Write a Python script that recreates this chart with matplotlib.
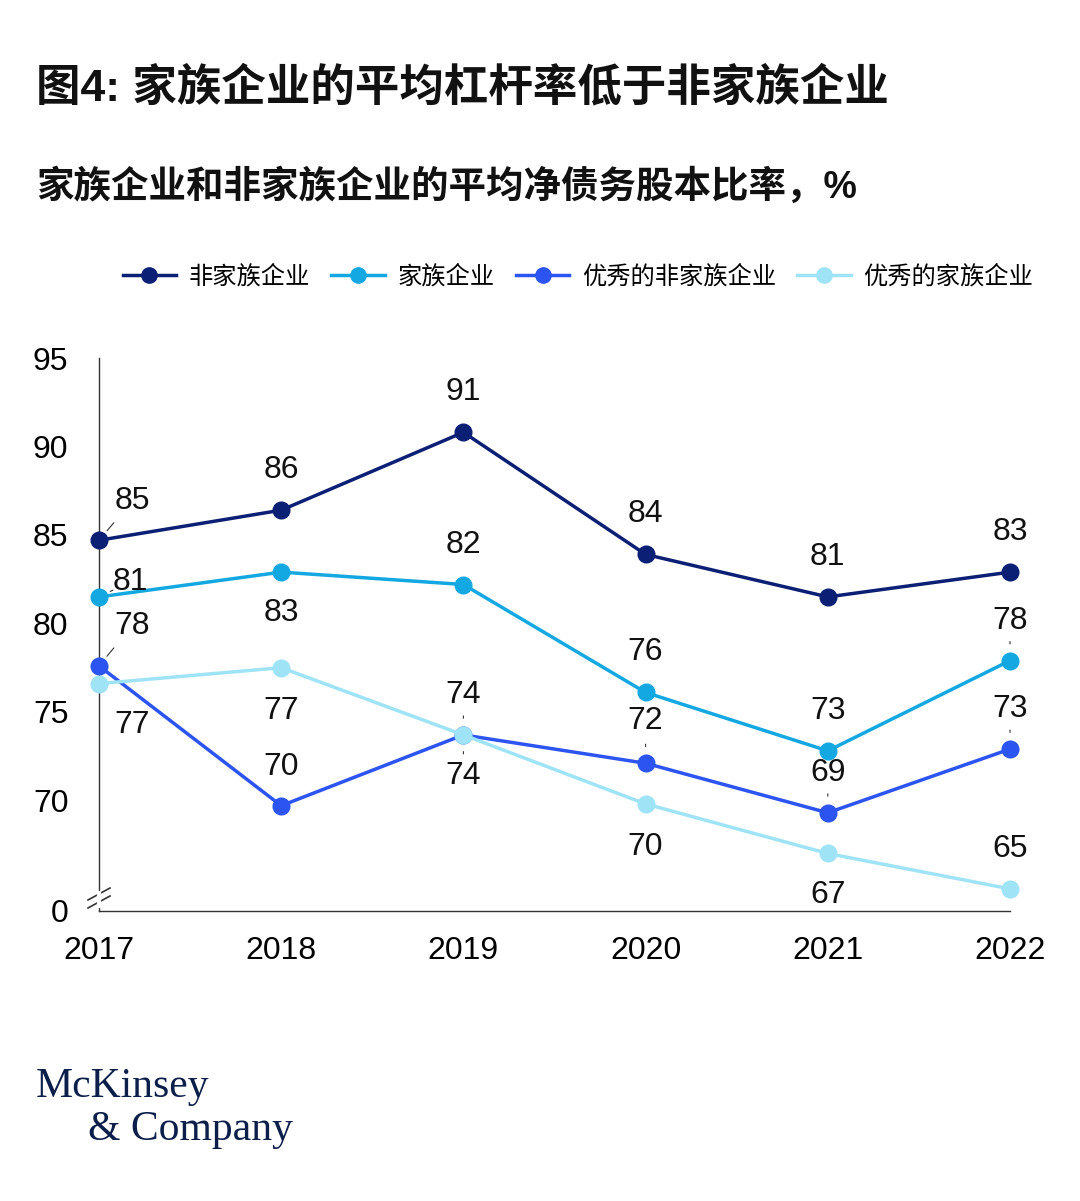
import matplotlib
matplotlib.use("Agg")
import matplotlib.pyplot as plt
from matplotlib.lines import Line2D

years = [2017, 2018, 2019, 2020, 2021, 2022]
series_names = ["非家族企业", "家族企业", "优秀的非家族企业", "优秀的家族企业"]
non_family = [84.7, 86.4, 90.8, 83.9, 81.5, 82.9]
family = [81.5, 82.9, 82.2, 76.1, 72.8, 77.9]
top_non_family = [77.6, 69.7, 73.7, 72.1, 69.3, 72.9]
top_family = [76.6, 77.5, 73.7, 69.8, 67.0, 65.0]
non_family_lbl = [85, 86, 91, 84, 81, 83]
family_lbl = [81, 83, 82, 76, 73, 78]
top_non_family_lbl = [78, 70, 74, 72, 69, 73]
top_family_lbl = [77, 77, 74, 70, 67, 65]
yticks = [70, 75, 80, 85, 90, 95]

colors = ["#0B1F74", "#13A8E2", "#2B54F0", "#9EE3F6"]
offs = [
    [(33, -39), (0, -40), (0, -40), (0, -40), (0, -40), (0, -40)],
    [(31, -15), (0, 41), (0, -40), (0, -40), (0, -40), (0, -40)],
    [(33, -40), (0, -39), (0, -40), (0, -42), (0, -40), (0, -40)],
    [(33, 41), (0, 43), (0, 41), (0, 43), (0, 42), (0, -40)],
]
leader = [
    [True, False, False, False, False, False],
    [True, False, False, False, False, True],
    [True, False, True, True, True, True],
    [False, False, True, False, False, False],
]

plt.rcParams['font.family'] = ['Liberation Sans', 'Noto Sans CJK SC']
fig = plt.figure(figsize=(10.8, 12.01), dpi=100)
ax = fig.add_axes([99/1080, 1-911/1201, (1010-99)/1080, (911-358)/1201])
ymin = 63.75
ax.set_xlim(2017, 2022)
ax.set_ylim(ymin, 95)

data = [non_family, family, top_non_family, top_family]
labels = [non_family_lbl, family_lbl, top_non_family_lbl, top_family_lbl]
pt = 0.72
for i in [3, 2, 1, 0]:
    ax.plot(years, data[i], color=colors[i], lw=2.5, marker='o', ms=12,
            clip_on=False, zorder=3+i)
for i in range(4):
    for j, x in enumerate(years):
        dx, dy = offs[i][j]
        ax.annotate(str(labels[i][j]), (x, data[i][j]), xytext=(dx*pt, -dy*pt),
                    textcoords='offset points', ha='center', va='center',
                    fontsize=23, color='#111111', zorder=10)
        if leader[i][j]:
            if dx:
                ax.annotate("", (x, data[i][j]), xytext=(dx*pt*0.45, -dy*pt*0.45),
                            textcoords='offset points',
                            arrowprops=dict(arrowstyle='-', color='#333333', lw=0.8,
                                            shrinkA=0, shrinkB=9))
            else:
                s = -1 if dy < 0 else 1
                ax.annotate("", (x, data[i][j]), xytext=(0, -s*19*pt),
                            textcoords='offset points',
                            arrowprops=dict(arrowstyle='-', color='#333333', lw=0.8,
                                            shrinkA=0, shrinkB=12))

ax.set_yticks([ymin] + yticks)
ax.set_yticklabels(["0"] + [str(v) for v in yticks], fontsize=23)
ax.set_xticks(years)
ax.set_xticklabels([str(y) for y in years], fontsize=23)
ax.tick_params(length=0)
ax.tick_params(axis='x', pad=18)
ax.tick_params(axis='y', pad=22)
for s in ['top', 'right']:
    ax.spines[s].set_visible(False)
for s in ['left', 'bottom']:
    ax.spines[s].set_color('#333333')
    ax.spines[s].set_linewidth(1)
for off in [0, 8]:
    fig.add_artist(Line2D([88/1080, 110/1080],
                          [1-(904-off+4)/1201, 1-(900-off-4)/1201],
                          color='#333333', lw=1.2))
fig.add_artist(Line2D([99/1080, 99/1080], [1-906/1201, 1-893/1201], color='white', lw=3))

fig.text(36/1080, 1-88/1201, "图4: 家族企业的平均杠杆率低于非家族企业", fontsize=32,
         fontweight='bold', va='center', ha='left', color='#111111')
fig.text(36/1080, 1-187/1201, "家族企业和非家族企业的平均净债务股本比率，%", fontsize=27,
         fontweight='bold', va='center', ha='left', color='#111111')

handles = [Line2D([0], [0], color=c, lw=2.5, marker='o', ms=11) for c in colors]
fig.legend(handles, series_names, loc='center', ncol=4, frameon=False,
           bbox_to_anchor=(0.535, 1-277/1201), fontsize=17.5, handlelength=2.2,
           columnspacing=0.9, handletextpad=0.5)

fig.text(36/1080, 1-1087/1201, "McKinsey", family='Liberation Serif', fontsize=30,
         color='#0B1F4A', va='center')
fig.text(88/1080, 1-1130/1201, "& Company", family='Liberation Serif', fontsize=30,
         color='#0B1F4A', va='center')
fig.savefig("out.png", dpi=100, facecolor='white')
